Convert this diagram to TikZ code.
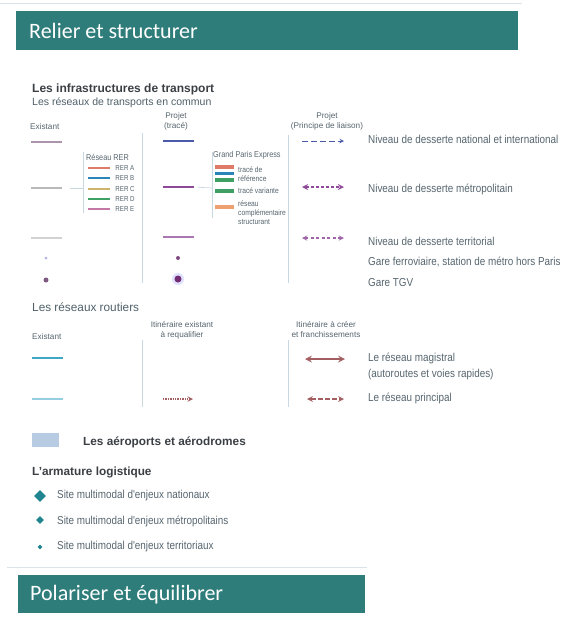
\documentclass[tikz,border=0pt]{standalone}
\usepackage{fontspec}
\setmainfont{Liberation Sans}
\newfontfamily\narrowfont{Liberation Sans}[FakeStretch=0.86]
\newfontfamily\titlefont{Carlito}
\usetikzlibrary{shapes,arrows,positioning,calc}

\definecolor{barteal}{HTML}{2E7D7A}
\definecolor{headgrey}{HTML}{3A3F44}
\definecolor{subgrey}{HTML}{4F6068}
\definecolor{labgrey}{HTML}{56656E}
\definecolor{sepblue}{HTML}{C9D7E0}
\definecolor{rera}{HTML}{E07A68}
\definecolor{rerb}{HTML}{2A86B8}
\definecolor{rerc}{HTML}{CDB46A}
\definecolor{rerd}{HTML}{3FA064}
\definecolor{rere}{HTML}{C478A6}
\definecolor{gpeorange}{HTML}{F0A070}
\definecolor{tcpurple}{HTML}{8E4A98}
\definecolor{tcblue}{HTML}{4A5AA8}
\definecolor{roadred}{HTML}{A35E62}
\definecolor{roadblue}{HTML}{3FA6C8}
\definecolor{logteal}{HTML}{20858F}
\definecolor{airblue}{HTML}{B7CCE2}

\begin{document}
\begin{tikzpicture}[
    x=1pt, y=-1pt,
    bar/.style={rectangle, fill=barteal, anchor=north west, inner sep=0},
    bartext/.style={anchor=west, text=white, inner sep=0, font=\titlefont\fontsize{22}{26}\selectfont},
    heading/.style={anchor=west, inner sep=0, text=headgrey, font=\bfseries\fontsize{12}{14}\selectfont},
    subhead/.style={anchor=west, inner sep=0, text=subgrey, font=\fontsize{10.5}{12}\selectfont},
    colhead/.style={align=center, inner sep=0, text=labgrey, font=\fontsize{8.2}{10}\selectfont},
    label/.style={anchor=west, inner sep=0, text=labgrey, font=\narrowfont\fontsize{11.5}{17}\selectfont},
    tiny/.style={anchor=west, inner sep=0, align=left, text=labgrey, font=\narrowfont\fontsize{7.8}{9}\selectfont},
    swatch/.style={rectangle, inner sep=0, minimum width=31pt, minimum height=2pt},
    rer/.style={rectangle, inner sep=0, minimum width=22pt, minimum height=2.5pt},
    gpe/.style={rectangle, inner sep=0, minimum width=19pt, minimum height=3.2pt},
    separator/.style={sepblue, line width=0.8pt},
    bracket/.style={sepblue, line width=0.7pt},
    liaison/.style={->, >=stealth, line width=1pt, dash pattern=on 6pt off 3pt},
    metro/.style={<->, >=stealth, line width=1.7pt, dash pattern=on 3pt off 2pt},
    dot/.style={circle, inner sep=0}
]
\useasboundingbox (0,0) rectangle (585,619);

% Title bars
\draw[sepblue!70, line width=1pt] (0,3) -- (522,3);
\node[bar, minimum width=502pt, minimum height=39pt] (topbar) at (16,11) {};
\node[bartext] (toptitle) at (29,31) {Relier et structurer};
\draw[sepblue!70, line width=1pt] (7,567) -- (367,567);
\node[bar, minimum width=347pt, minimum height=38pt] (botbar) at (18,575) {};
\node[bartext] (bottitle) at (30,595) {Polariser et équilibrer};

% Transports en commun
\node[heading] (infra) at (32,89) {Les infrastructures de transport};
\node[subhead] (tc) at (32,103) {Les réseaux de transports en commun};
\node[colhead, anchor=west] (tcex) at (30,127) {Existant};
\node[colhead] (tcproj) at (176,121) {Projet\\(tracé)};
\node[colhead] (tclia) at (327,121) {Projet\\(Principe de liaison)};

\draw[separator] (142,133) -- (142,283);
\draw[separator] (288,135) -- (288,283);

% Existant
\node[swatch, fill=tcpurple!45!gray!70] (ex1) at (46,142) {};
\node[swatch, fill=gray!55] (ex2) at (46,188) {};
\node[swatch, fill=gray!35] (ex3) at (46,238) {};
\node[dot, fill=gray!50!blue!40, minimum size=3pt] (ex4) at (46,258) {};
\node[dot, fill=gray!70!violet, minimum size=5pt] (ex5) at (46,280) {};

% Reseau RER
\coordinate (rerstem) at (83,188);
\coordinate (rertop) at (83,152);
\coordinate (rerbot) at (83,213);
\draw[bracket, shorten <=8pt] (ex2.east) -- (rerstem);
\draw[bracket] (rertop) -- (rerbot);
\node[tiny, font=\narrowfont\fontsize{8.5}{10}\selectfont] (rertitle) at (86,157) {Réseau RER};
\foreach \lbl/\col/\y in {A/rera/168, B/rerb/178, C/rerc/189, D/rerd/199, E/rere/209} {
    \node[rer, fill=\col] (rer\lbl) at (99,\y) {};
    \node[tiny, font=\narrowfont\fontsize{7.2}{9}\selectfont, right=5pt of rer\lbl] {RER \lbl};
}

% Projet (trace)
\node[swatch, fill=tcblue] (pt1) at (178,141) {};
\node[swatch, fill=tcpurple, minimum height=2.6pt] (pt2) at (178,187) {};
\node[swatch, fill=tcpurple!75] (pt3) at (178,237) {};
\node[dot, fill=violet!40!gray, minimum size=4pt] (pt4) at (178,258) {};
\node[dot, fill=blue!12, minimum size=12pt] (pt5halo) at (178,279) {};
\node[dot, fill=violet!60!gray!90!black, minimum size=7pt] (pt5) at (178,279) {};

% Grand Paris Express
\coordinate (gpestem) at (212,188);
\coordinate (gpetop) at (212,152);
\coordinate (gpebot) at (212,218);
\draw[bracket, shorten <=4pt] (pt2.east) -- (gpestem);
\draw[bracket] (gpetop) -- (gpebot);
\node[tiny, font=\narrowfont\fontsize{8.5}{10}\selectfont] (gpetitle) at (213,155) {Grand Paris Express};
\node[gpe, fill=rera] (gpe1) at (224,167) {};
\node[gpe, fill=rerb] (gpe2) at (224,173.5) {};
\node[gpe, fill=rerd] (gpe3) at (224,180) {};
\node[gpe, fill=rerd] (gpe4) at (224,191) {};
\node[gpe, fill=gpeorange] (gpe5) at (224,207) {};
\node[tiny] (gperef) at (238,174) {tracé de\\référence};
\node[tiny] (gpevar) at (238,191) {tracé variante};
\node[tiny] (gpecomp) at (238,213) {réseau\\complémentaire\\structurant};

% Projet (principe de liaison)
\coordinate (pl1a) at (302,141);
\coordinate (pl1b) at (344,141);
\coordinate (pl2a) at (302,187);
\coordinate (pl2b) at (344,187);
\coordinate (pl3a) at (302,238);
\coordinate (pl3b) at (344,238);
\draw[liaison, tcblue] (pl1a) -- (pl1b);
\draw[metro, tcpurple] (pl2a) -- (pl2b);
\draw[metro, tcpurple!85, line width=1.3pt, dash pattern=on 3pt off 2.5pt] (pl3a) -- (pl3b);

\node[label] (n1) at (368,139) {Niveau de desserte national et international};
\node[label] (n2) at (368,189) {Niveau de desserte métropolitain};
\node[label] (n3) at (368,241) {Niveau de desserte territorial};
\node[label] (n4) at (368,262) {Gare ferroviaire, station de métro hors Paris};
\node[label] (n5) at (368,283) {Gare TGV};

% Reseaux routiers
\node[subhead, font=\fontsize{11.8}{14}\selectfont] (routes) at (32,307) {Les réseaux routiers};
\node[colhead, anchor=west] (rtex) at (32,337) {Existant};
\node[colhead] (rtreq) at (182,330) {Itinéraire existant\\à requalifier};
\node[colhead] (rtnew) at (326,330) {Itinéraire à créer\\et franchissements};

\draw[separator] (142,340) -- (142,407);
\draw[separator] (288,340) -- (288,407);

\node[swatch, fill=roadblue, minimum height=2.4pt] (re1) at (47,358) {};
\node[swatch, fill=roadblue!55, minimum height=1.5pt] (re2) at (47,399) {};

\coordinate (rq1a) at (163,399);
\coordinate (rq1b) at (193,399);
\draw[->, >=stealth, roadred, line width=1.4pt, dash pattern=on 1.4pt off 1pt] (rq1a) -- (rq1b);

\coordinate (rn1a) at (305,359);
\coordinate (rn1b) at (345,359);
\coordinate (rn2a) at (307,399);
\coordinate (rn2b) at (344,399);
\draw[<->, >=stealth, roadred, line width=2pt] (rn1a) -- (rn1b);
\draw[<->, >=stealth, roadred, line width=1.6pt, dash pattern=on 5pt off 2pt] (rn2a) -- (rn2b);

\node[label] (r1) at (368,358) {Le réseau magistral};
\node[label] (r1b) at (368,375) {(autoroutes et voies rapides)};
\node[label] (r2) at (368,398) {Le réseau principal};

% Aeroports
\node[rectangle, fill=airblue, minimum width=27pt, minimum height=14pt, inner sep=0] (airport) at (45,440) {};
\node[heading, font=\bfseries\fontsize{11.8}{14}\selectfont] (airlbl) at (83,442) {Les aéroports et aérodromes};

% Armature logistique
\node[heading, font=\bfseries\fontsize{11.8}{14}\selectfont] (logi) at (32,472) {L'armature logistique};
\node[diamond, fill=logteal, minimum size=12pt, inner sep=0] (site1) at (40,496) {};
\node[diamond, fill=logteal, minimum size=8pt, inner sep=0] (site2) at (40,520) {};
\node[diamond, fill=logteal, minimum size=5pt, inner sep=0] (site3) at (40,547) {};
\node[label] (s1) at (57,496) {Site multimodal d'enjeux nationaux};
\node[label] (s2) at (57,521) {Site multimodal d'enjeux métropolitains};
\node[label] (s3) at (57,547) {Site multimodal d'enjeux territoriaux};

\end{tikzpicture}
\end{document}
